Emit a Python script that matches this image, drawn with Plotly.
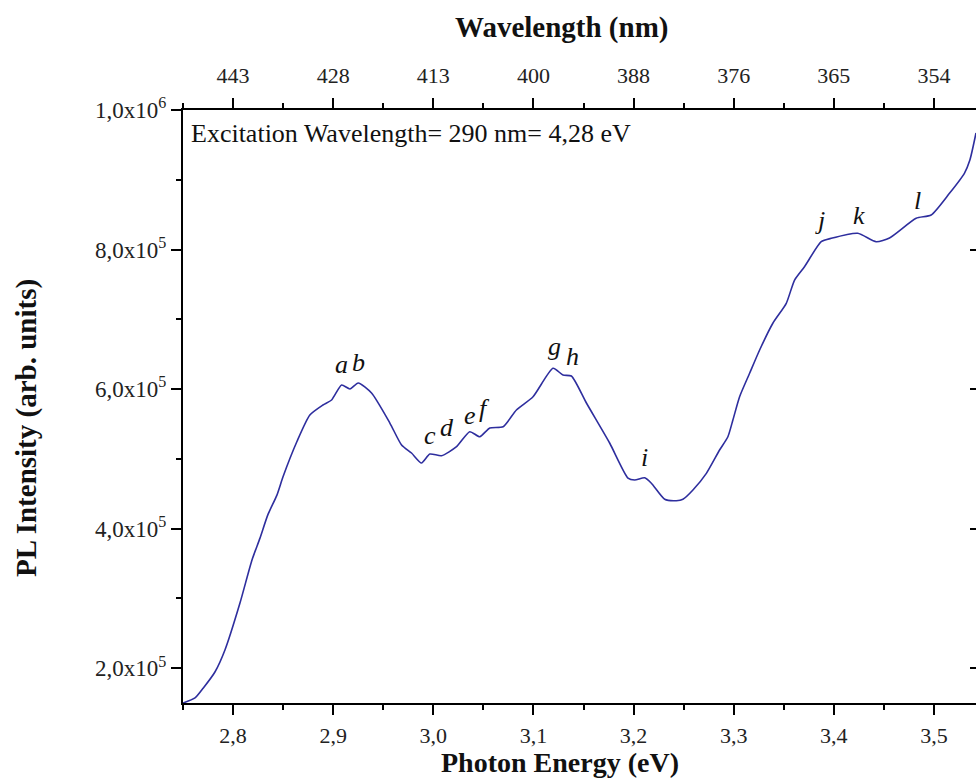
import plotly.graph_objects as go

# Data
energy_eV = [2.7500, 2.7620, 2.7703, 2.7819, 2.7919, 2.8069, 2.8189, 2.8268, 2.8348, 2.8438,
             2.8498, 2.8638, 2.8767, 2.8897, 2.8984, 2.9084, 2.9167, 2.9250, 2.9383, 2.9566,
             2.9683, 2.9782, 2.9882, 2.9965, 3.0082, 3.0232, 3.0364, 3.0464, 3.0564, 3.0697,
             3.0830, 3.0996, 3.1196, 3.1295, 3.1379, 3.1529, 3.1761, 3.1944, 3.2011, 3.2111,
             3.2178, 3.2311, 3.2427, 3.2493, 3.2593, 3.2727, 3.2859, 3.2942, 3.2992, 3.3059,
             3.3159, 3.3259, 3.3391, 3.3525, 3.3608, 3.3707, 3.3874, 3.3974, 3.4239, 3.4423,
             3.4556, 3.4822, 3.4972, 3.5155, 3.5304, 3.5359, 3.5420]
pl_intensity = [150000, 157200, 171500, 194400, 226000, 293300, 355000, 386000, 420000, 448000,
                473900, 524800, 562800, 577100, 584300, 605800, 600100, 608700, 594300, 551300,
                519800, 508300, 494000, 506900, 504500, 517400, 538900, 531700, 544200, 546000,
                570000, 589000, 629800, 620100, 618700, 580000, 522700, 472500, 469600, 472800,
                465000, 442000, 440000, 442000, 455300, 479200, 512600, 531700, 555600, 589000,
                622600, 656000, 694300, 722900, 756300, 775400, 811200, 816100, 823300, 811200,
                816500, 844800, 849500, 880600, 909300, 928300, 967000]

x_tick_vals = [2.8, 2.9, 3.0, 3.1, 3.2, 3.3, 3.4, 3.5]
x_tick_text = ["2,8", "2,9", "3,0", "3,1", "3,2", "3,3", "3,4", "3,5"]
wavelength_text = ["443", "428", "413", "400", "388", "376", "365", "354"]
y_tick_vals = [200000, 400000, 600000, 800000, 1000000]
y_tick_text = ["2,0x10<sup>5</sup>", "4,0x10<sup>5</sup>", "6,0x10<sup>5</sup>",
               "8,0x10<sup>5</sup>", "1,0x10<sup>6</sup>"]

peak_labels = ["a", "b", "c", "d", "e", "f", "g", "h", "i", "j", "k", "l"]
peak_x = [2.9084, 2.9250, 2.9965, 3.0132, 3.0364, 3.0514, 3.1213, 3.1392, 3.2111, 3.3857, 3.4256, 3.4835]
peak_y = [634500, 637400, 534100, 545600, 562800, 572800, 660300, 646000, 502600, 842300, 849500, 871000]

X_RANGE = [2.75, 3.542]
Y_RANGE = [150000, 1000000]
FONT = "Liberation Serif"
LINE_COLOR = "#2e2e9e"

# plot-area pixel geometry
L, R, T, B = 183, 0, 110, 79
PW, PH = 976 - L - R, 782 - T - B


def px_to_paper(px, py):
    return (px - L) / PW, (782 - B - py) / PH


fig = go.Figure()
fig.add_trace(go.Scatter(x=energy_eV, y=pl_intensity, mode="lines",
                         line=dict(color=LINE_COLOR, width=1.6, shape="spline", smoothing=0.6),
                         showlegend=False, hoverinfo="skip"))
# invisible trace to anchor the top (wavelength) axis and right ticks
fig.add_trace(go.Scatter(x=energy_eV, y=pl_intensity, mode="lines", xaxis="x2", yaxis="y2",
                         line=dict(color="rgba(0,0,0,0)", width=0),
                         showlegend=False, hoverinfo="skip"))

axis_common = dict(showline=True, linecolor="black", linewidth=2, ticks="outside",
                   tickcolor="black", tickwidth=2, ticklen=10, showgrid=False, zeroline=False)
minor_x = dict(ticks="outside", ticklen=5, tickwidth=2, tickcolor="black",
               tickmode="linear", tick0=2.75, dtick=0.05)

fig.update_layout(
    width=976, height=782,
    margin=dict(l=L, r=R, t=T, b=B),
    paper_bgcolor="white", plot_bgcolor="white",
    xaxis=dict(range=X_RANGE, tickmode="array", tickvals=x_tick_vals, ticktext=x_tick_text,
               minor=minor_x, tickfont=dict(family=FONT, size=22, color="#222"),
               ticklabelstandoff=2, **axis_common),
    xaxis2=dict(range=X_RANGE, overlaying="x", side="top", anchor="y",
                tickmode="array", tickvals=x_tick_vals, ticktext=wavelength_text,
                minor=minor_x, tickfont=dict(family=FONT, size=22, color="#222"),
                ticklabelstandoff=6, **axis_common),
    yaxis=dict(range=Y_RANGE, tickmode="array", tickvals=y_tick_vals, ticktext=y_tick_text,
               minor=dict(ticks="outside", ticklen=5, tickwidth=2, tickcolor="black",
                          tickmode="linear", tick0=100000, dtick=100000),
               tickfont=dict(family=FONT, size=23, color="#222"), **axis_common),
    yaxis2=dict(range=Y_RANGE, overlaying="y", side="right", anchor="x", showline=False,
                ticks="inside", ticklen=6, tickwidth=2, tickcolor="black",
                tickmode="array", tickvals=[200000, 400000, 600000, 800000],
                showticklabels=False, showgrid=False, zeroline=False),
)

annotations = []
for lab, px, py in zip(peak_labels, peak_x, peak_y):
    annotations.append(dict(x=px, y=py, xref="x", yref="y", text="<i>%s</i>" % lab,
                            showarrow=False, font=dict(family=FONT, size=26, color="#111")))

ex, ey = px_to_paper(189, 134)
annotations.append(dict(x=ex, y=ey, xref="paper", yref="paper", xanchor="left",
                        yanchor="middle", showarrow=False,
                        text="Excitation Wavelength= 290 nm= 4,28 eV",
                        font=dict(family=FONT, size=26, color="#111")))
tx, ty = px_to_paper(561, 28)
annotations.append(dict(x=tx, y=ty, xref="paper", yref="paper", showarrow=False,
                        text="<b>Wavelength (nm)</b>", xanchor="center", yanchor="middle",
                        font=dict(family=FONT, size=29, color="#111")))
bx, by = px_to_paper(560, 762)
annotations.append(dict(x=bx, y=by, xref="paper", yref="paper", showarrow=False,
                        text="<b>Photon Energy (eV)</b>", xanchor="center", yanchor="middle",
                        font=dict(family=FONT, size=28, color="#111")))
lx, ly = px_to_paper(27, 428)
annotations.append(dict(x=lx, y=ly, xref="paper", yref="paper", showarrow=False,
                        text="<b>PL Intensity (arb. units)</b>", textangle=-90,
                        xanchor="center", yanchor="middle",
                        font=dict(family=FONT, size=29, color="#111")))
fig.update_layout(annotations=annotations)

fig.write_html("out.html")
